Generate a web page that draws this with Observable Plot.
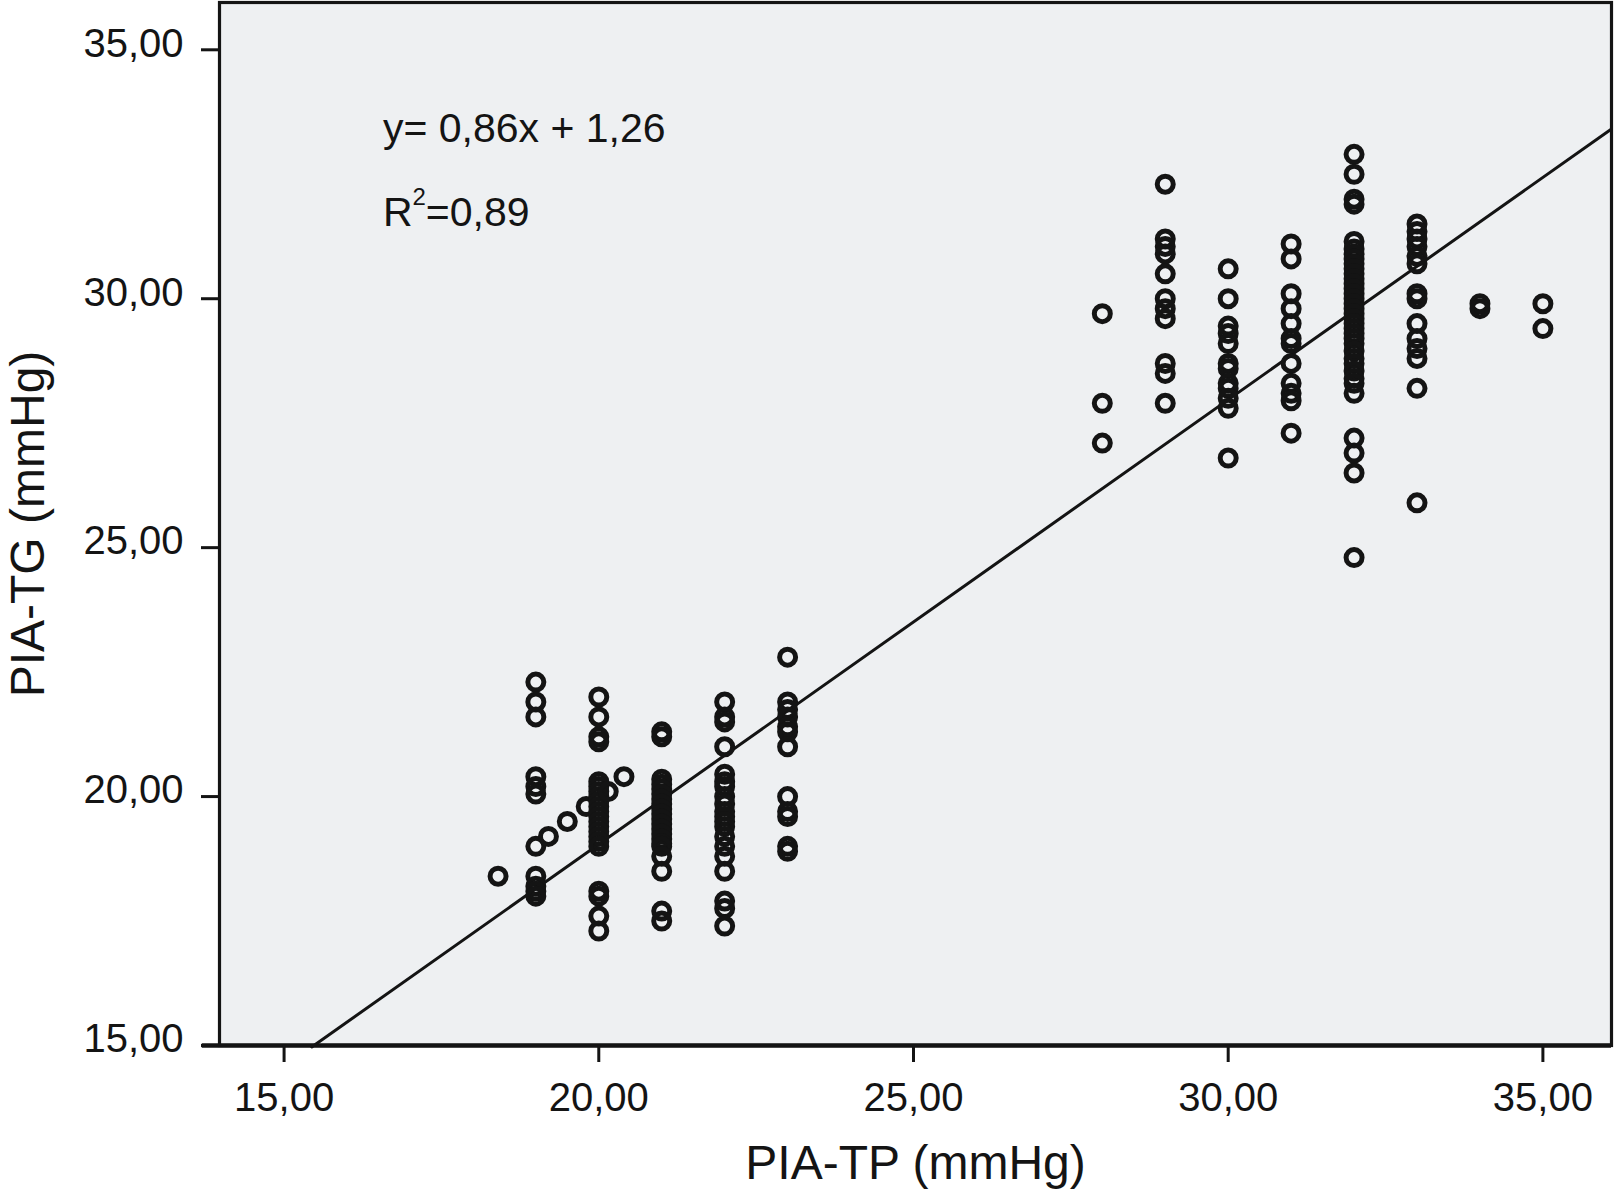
<!DOCTYPE html>
<html>
<head>
<meta charset="utf-8">
<script src="https://cdn.jsdelivr.net/npm/d3@7"></script>
<script src="https://cdn.jsdelivr.net/npm/@observablehq/plot@0.6"></script>
<style>
  html, body { margin: 0; padding: 0; background: white; overflow: hidden; }
</style>
</head>
<body>
<div id="chart"></div>
<script>
// PIA-TP values (x) of each column of points
const columnTP = [18.4, 19, 19.2, 19.5, 19.8, 20, 20.15, 20.4, 21, 22, 23,
                  28, 29, 30, 31, 32, 33, 34, 35];

// PIA-TG values (y) for each column above
const columnTG = [
  [18.4],
  [22.3, 21.9, 21.6, 20.4, 20.2, 20.05, 19.0, 18.4, 18.2, 18.1, 18.0],
  [19.2],
  [19.5],
  [19.8],
  [22.0, 21.6, 21.2, 21.1, 20.3, 20.2, 20.1, 20.0, 19.9, 19.8, 19.7, 19.6, 19.5,
   19.4, 19.3, 19.2, 19.1, 19.0, 18.1, 18.0, 17.6, 17.3],
  [20.1],
  [20.4],
  [21.3, 21.2, 20.35, 20.25, 20.15, 20.05, 19.95, 19.85, 19.75, 19.65, 19.55,
   19.45, 19.35, 19.25, 19.15, 19.05, 19.0, 18.8, 18.5, 17.7, 17.5],
  [21.9, 21.6, 21.5, 21.0, 20.45, 20.3, 20.2, 20.0, 19.85, 19.7, 19.6, 19.5,
   19.4, 19.2, 19.0, 18.8, 18.5, 17.9, 17.75, 17.4],
  [22.8, 21.9, 21.75, 21.6, 21.4, 21.3, 21.0, 20.0, 19.7, 19.6, 19.0, 18.9],
  [29.7, 27.9, 27.1],
  [32.3, 31.2, 31.05, 30.9, 30.5, 30.0, 29.8, 29.6, 28.7, 28.5, 27.9],
  [30.6, 30.0, 29.45, 29.3, 29.1, 28.7, 28.6, 28.3, 28.2, 28.0, 27.8, 26.8],
  [31.1, 30.8, 30.1, 29.8, 29.5, 29.2, 29.1, 28.7, 28.3, 28.1, 27.95, 27.3],
  [32.9, 32.5, 32.0, 31.9, 31.15, 31.0, 30.9, 30.8, 30.7, 30.6, 30.5, 30.4,
   30.3, 30.2, 30.1, 30.0, 29.9, 29.8, 29.7, 29.6, 29.5, 29.4, 29.3, 29.2,
   29.1, 28.95, 28.8, 28.7, 28.55, 28.4, 28.3, 28.1, 27.2, 26.9, 26.5, 24.8],
  [31.5, 31.35, 31.2, 31.05, 30.85, 30.7, 30.1, 30.0, 29.5, 29.2, 29.0, 28.8,
   28.2, 25.9],
  [29.9, 29.8],
  [29.9, 29.4]
];

// fitted line as drawn (ends on the frame)
const fitTP = [15.44, 36.09];
const fitTG = [14.97, 33.41];

const ticks = [15, 20, 25, 30, 35];

const points = [];
columnTP.forEach((x, i) => {
  for (const y of columnTG[i]) points.push({tp: x, tg: y});
});
const fit = fitTP.map((x, i) => ({tp: x, tg: fitTG[i]}));

const fmt = d => d.toFixed(2).replace('.', ',');
const ink = '#141414';

const chart = Plot.plot({
  width: 1614,
  height: 1201,
  marginLeft: 219,
  marginRight: 3,
  marginTop: 2,
  marginBottom: 156,
  style: {fontFamily: '"Liberation Sans", Arial, Helvetica, sans-serif', background: 'white', color: ink},
  x: {domain: [13.974, 36.09]},
  y: {domain: [15, 35.95]},
  marks: [
    Plot.frame({fill: '#eef0f2', stroke: null}),
    Plot.line(fit, {x: 'tp', y: 'tg', stroke: ink, strokeWidth: 3}),
    Plot.dot(points, {x: 'tp', y: 'tg', r: 8, stroke: ink, strokeWidth: 5, fill: 'none'}),
    Plot.frame({stroke: ink, strokeWidth: 3.2}),
    Plot.ruleY([15], {x1: 13.70, x2: 36.09, stroke: ink, strokeWidth: 4.5}),
    Plot.axisX({ticks: ticks, tickFormat: fmt, tickSize: 17, tickPadding: 20,
      fontSize: 40, strokeWidth: 3, label: null}),
    // y ticks, then labels nudged up a little like the original
    Plot.axisY({ticks: ticks, tickFormat: () => '', tickSize: 18,
      strokeWidth: 3, label: null}),
    Plot.axisY({ticks: ticks, tickFormat: fmt, tickSize: 0, tickPadding: 36,
      fontSize: 40, dy: -6, label: null}),
    Plot.text(['y= 0,86x + 1,26'], {x: 16.57, y: 33.14, textAnchor: 'start',
      lineAnchor: 'bottom', fontSize: 41, fill: ink}),
    Plot.text(['R²=0,89'], {x: 16.57, y: 31.47, textAnchor: 'start',
      lineAnchor: 'bottom', fontSize: 41, fill: ink}),
    Plot.text(['PIA-TP (mmHg)'], {frameAnchor: 'bottom', dy: 133,
      lineAnchor: 'bottom', fontSize: 48, fill: ink}),
    Plot.text(['PIA-TG (mmHg)'], {frameAnchor: 'left', rotate: -90, dx: -176,
      textAnchor: 'middle', lineAnchor: 'bottom', fontSize: 48, fill: ink})
  ]
});

// raise the 2 of R² like a real superscript
d3.select(chart).selectAll('text')
  .filter(function() { return this.textContent === 'R²=0,89'; })
  .each(function() {
    const t = d3.select(this);
    t.text('R');
    t.append('tspan').attr('dy', -21).attr('font-size', 24).text('2');
    t.append('tspan').attr('dy', 21).text('=0,89');
  });

d3.select('#chart').append(() => chart);
</script>
</body>
</html>
